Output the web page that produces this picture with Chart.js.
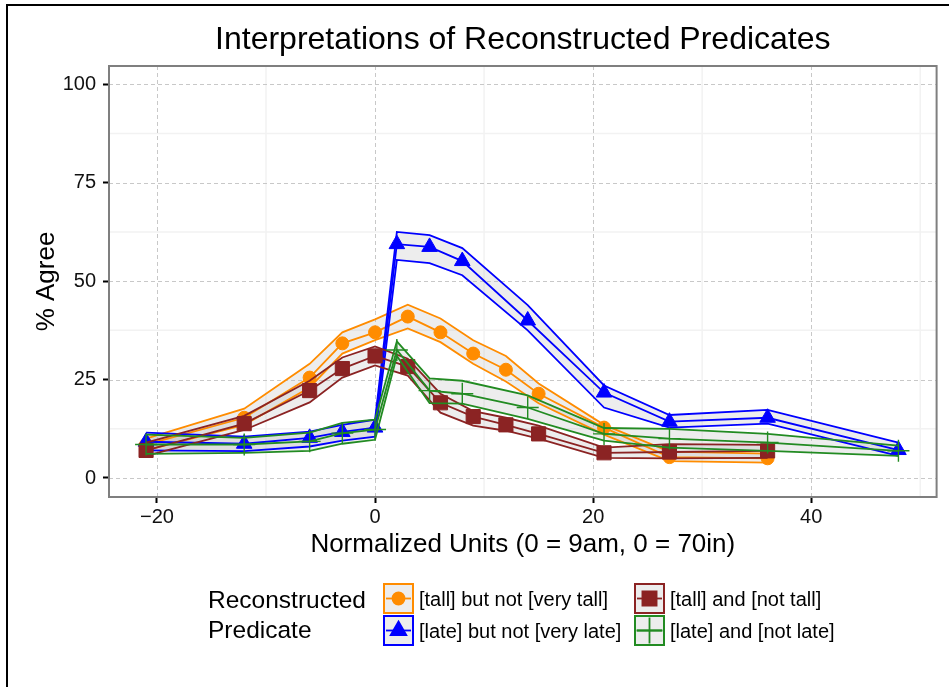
<!DOCTYPE html>
<html>
<head>
<meta charset="utf-8">
<script src="https://cdn.jsdelivr.net/npm/chart.js@4.4.1/dist/chart.umd.min.js"></script>
<style>
  html, body { margin: 0; padding: 0; background: #fff; }
  #wrap { position: relative; width: 949px; height: 687px; overflow: hidden; }
  #frame { position: absolute; left: 6px; top: 4px; right: -4px; bottom: -4px; border-left: 2px solid #000; border-top: 2px solid #000; pointer-events: none; }
  canvas { position: absolute; left: 0; top: 0; }
</style>
</head>
<body>
<div id="wrap"><canvas id="chart" width="949" height="687"></canvas><div id="frame"></div></div>
<script>
// x positions (normalized units)
const tallX = [-21, -12, -6, -3, 0, 3, 6, 9, 12, 15, 21, 27, 36];
const lateX = [-21, -12, -6, -3, 0, 2, 5, 8, 14, 21, 27, 36, 48];

// [tall] but not [very tall]
const tallNotVeryMean = [8.5, 15.3, 25.5, 34.2, 37, 41, 37, 31.6, 27.5, 21.4, 12.8, 5.3, 5];
const tallNotVeryHigh = [10, 17.6, 29, 37, 40.3, 44, 40.5, 35, 31, 24, 13.5, 6.7, 6.2];
const tallNotVeryLow  = [7, 13.5, 23, 31.6, 35, 38, 34.5, 29, 24.5, 19, 11, 4.3, 3.9];

// [late] but not [very late]
const lateNotVeryMean = [9.2, 8.7, 10.2, 11.7, 12.8, 59.4, 58.7, 55.1, 40, 21.7, 14.3, 15.3, 7.1];
const lateNotVeryHigh = [11.5, 10.5, 11.8, 13.5, 14.8, 62.5, 61.7, 58.4, 43.9, 23.5, 16, 17.3, 9];
const lateNotVeryLow  = [7, 6.8, 8, 9.5, 10.5, 55.4, 54.6, 51.5, 37.5, 17.9, 12.8, 13.8, 5.6];

// [tall] and [not tall]
const tallAndNotMean = [7, 13.8, 22.2, 27.8, 31, 28.3, 19.1, 15.6, 13.5, 11.2, 6.4, 6.6, 6.9];
const tallAndNotHigh = [9, 15.8, 24.7, 30.6, 33.4, 30.3, 21.4, 17, 15.3, 13.3, 7.7, 8.6, 8.4];
const tallAndNotLow  = [5.6, 12.2, 19.2, 25.5, 28.6, 26, 16.6, 13.3, 12, 10, 5.1, 5, 5.1];

// [late] and [not late]
const lateAndNotMean = [8.5, 8.5, 9.3, 11.4, 12.3, 32.5, 22.2, 21.4, 17.9, 11.2, 10, 9, 6.9];
const lateAndNotHigh = [11, 10.2, 11.5, 14, 14.8, 34.7, 25.3, 24.7, 21, 12.7, 12.5, 11.2, 8.2];
const lateAndNotLow  = [6.1, 6.4, 6.9, 8.7, 9.7, 31, 19, 18.9, 15, 9.5, 7.7, 6.9, 5.6];

const xTicks = [-20, 0, 20, 40];
const yTicks = [0, 25, 50, 75, 100];
const xMinor = [-10, 10, 30, 50];
const yMinor = [12.5, 37.5, 62.5, 87.5];

const FONT = '"Liberation Sans", Arial, Helvetica, sans-serif';
Chart.defaults.font.family = FONT;

const series = [
  { label: '[tall] but not [very tall]', color: '#FF8C00', x: tallX, mean: tallNotVeryMean, high: tallNotVeryHigh, low: tallNotVeryLow, point: 'circle', radius: 6.5, keyRadius: 6 },
  { label: '[late] but not [very late]', color: '#0000FF', x: lateX, mean: lateNotVeryMean, high: lateNotVeryHigh, low: lateNotVeryLow, point: 'triangle', radius: 9, keyRadius: 9 },
  { label: '[tall] and [not tall]', color: '#8B2323', x: tallX, mean: tallAndNotMean, high: tallAndNotHigh, low: tallAndNotLow, point: 'rect', radius: 10, keyRadius: 10 },
  { label: '[late] and [not late]', color: '#228B22', x: lateX, mean: lateAndNotMean, high: lateAndNotHigh, low: lateAndNotLow, point: 'cross', radius: 11, keyRadius: 13 }
];

const toPts = (xs, ys) => xs.map((x, i) => ({ x: x, y: ys[i] }));

const datasets = [];
series.forEach((s, k) => {
  const base = (series.length - k) * 10;
  datasets.push({
    data: toPts(s.x, s.high), borderColor: s.color, borderWidth: 1.8, pointRadius: 0,
    fill: '+1', backgroundColor: 'rgba(185, 185, 185, 0.25)', order: base + 1
  });
  datasets.push({
    data: toPts(s.x, s.low), borderColor: s.color, borderWidth: 1.8, pointRadius: 0,
    fill: false, order: base + 1
  });
  datasets.push({
    label: s.label, data: toPts(s.x, s.mean), borderColor: s.color, borderWidth: 1.8,
    pointStyle: s.point, pointRadius: s.radius, pointBackgroundColor: s.color,
    pointBorderColor: s.color, pointBorderWidth: s.point === 'cross' ? 1.4 : 1,
    fill: false, order: base
  });
});

/**
 * Fondo del panel: rejilla menor y mayor, y el borde gris
 */
const panelPlugin = {
  id: 'panel',
  beforeDraw(chart) {
    const { ctx, chartArea: a, scales } = chart;
    const line = (x1, y1, x2, y2) => { ctx.beginPath(); ctx.moveTo(x1, y1); ctx.lineTo(x2, y2); ctx.stroke(); };
    ctx.save();
    ctx.lineWidth = 1.5;
    ctx.strokeStyle = '#f2f2f2';
    xMinor.forEach(v => { const p = scales.x.getPixelForValue(v); line(p, a.top, p, a.bottom); });
    yMinor.forEach(v => { const p = scales.y.getPixelForValue(v); line(a.left, p, a.right, p); });
    ctx.setLineDash([4, 3]);
    ctx.lineWidth = 1;
    ctx.strokeStyle = '#c8c8c8';
    xTicks.forEach(v => { const p = Math.round(scales.x.getPixelForValue(v)) + 0.5; line(p, a.top, p, a.bottom); });
    yTicks.forEach(v => { const p = Math.round(scales.y.getPixelForValue(v)) + 0.5; line(a.left, p, a.right, p); });
    ctx.restore();
  },
  afterDatasetsDraw(chart) {
    const { ctx, chartArea: a } = chart;
    ctx.save();
    ctx.lineWidth = 2;
    ctx.strokeStyle = '#7f7f7f';
    ctx.strokeRect(a.left, a.top, a.right - a.left, a.bottom - a.top);
    ctx.restore();
  }
};

/**
 * Título centrado sobre el panel y leyenda dibujada a mano
 */
const legendPlugin = {
  id: 'predicateLegend',
  afterDraw(chart) {
    const { ctx, chartArea: a } = chart;
    ctx.save();
    ctx.fillStyle = '#000';
    ctx.font = '32px ' + FONT;
    ctx.textAlign = 'center';
    ctx.textBaseline = 'middle';
    ctx.fillText('Interpretations of Reconstructed Predicates', (a.left + a.right) / 2, 40);

    ctx.textAlign = 'left';
    ctx.textBaseline = 'alphabetic';
    ctx.font = '24.5px ' + FONT;
    ctx.fillText('Reconstructed', 208, 608);
    ctx.fillText('Predicate', 208, 638);

    const slots = [
      { x: 383, y: 583, textY: 606 },
      { x: 383, y: 615, textY: 638 },
      { x: 634, y: 583, textY: 606 },
      { x: 634, y: 615, textY: 638 }
    ];
    const w = 31, h = 31;
    series.forEach((s, i) => {
      const b = slots[i];
      ctx.fillStyle = '#ededed';
      ctx.fillRect(b.x, b.y, w, h);
      ctx.lineWidth = 2;
      ctx.strokeStyle = s.color;
      ctx.strokeRect(b.x + 1, b.y + 1, w - 2, h - 2);
      const cx = b.x + w / 2, cy = b.y + h / 2;
      ctx.lineWidth = 1.8;
      ctx.beginPath();
      ctx.moveTo(b.x + 3, cy);
      ctx.lineTo(b.x + w - 3, cy);
      ctx.stroke();
      ctx.fillStyle = s.color;
      Chart.helpers.drawPoint(ctx, {
        pointStyle: s.point, radius: s.keyRadius, rotation: 0,
        borderWidth: s.point === 'cross' ? 1.5 : 1
      }, cx, cy);
      ctx.fillStyle = '#000';
      ctx.font = '20px ' + FONT;
      ctx.fillText(s.label, b.x + w + 5, b.textY);
    });
    ctx.restore();
  }
};

new Chart(document.getElementById('chart').getContext('2d'), {
  type: 'line',
  data: { datasets: datasets },
  options: {
    responsive: false,
    animation: false,
    events: [],
    layout: { padding: { left: 8, right: 10, top: 66, bottom: 120 } },
    plugins: {
      legend: { display: false },
      tooltip: { enabled: false },
      title: { display: false },
      filler: { drawTime: 'beforeDatasetsDraw' }
    },
    scales: {
      x: {
        type: 'linear',
        min: -24.4,
        max: 51.5,
        afterBuildTicks: s => { s.ticks = xTicks.map(v => ({ value: v })); },
        afterFit: s => { s.height = 70; },
        grid: { display: true, drawOnChartArea: false, tickLength: 6, tickColor: '#000', tickWidth: 2 },
        border: { display: false },
        ticks: {
          color: '#111',
          font: { size: 20 },
          padding: 2,
          maxRotation: 0,
          autoSkip: false,
          callback: v => (v < 0 ? '\u2212' + Math.abs(v) : String(v))
        },
        title: {
          display: true,
          text: 'Normalized Units (0 = 9am, 0 = 70in)',
          color: '#000',
          font: { size: 26 },
          padding: { top: 0, bottom: 6.4 }
        }
      },
      y: {
        type: 'linear',
        min: -4.83,
        max: 104.65,
        afterBuildTicks: s => { s.ticks = yTicks.map(v => ({ value: v })); },
        afterFit: s => { s.width = 101; },
        grid: { display: true, drawOnChartArea: false, tickLength: 6, tickColor: '#000', tickWidth: 2 },
        border: { display: false },
        ticks: { color: '#111', font: { size: 20 }, padding: 7, autoSkip: false },
        title: {
          display: true,
          text: '% Agree',
          color: '#000',
          font: { size: 26 },
          padding: { top: 23, bottom: 0 }
        }
      }
    }
  },
  plugins: [panelPlugin, legendPlugin]
});
</script>
</body>
</html>
